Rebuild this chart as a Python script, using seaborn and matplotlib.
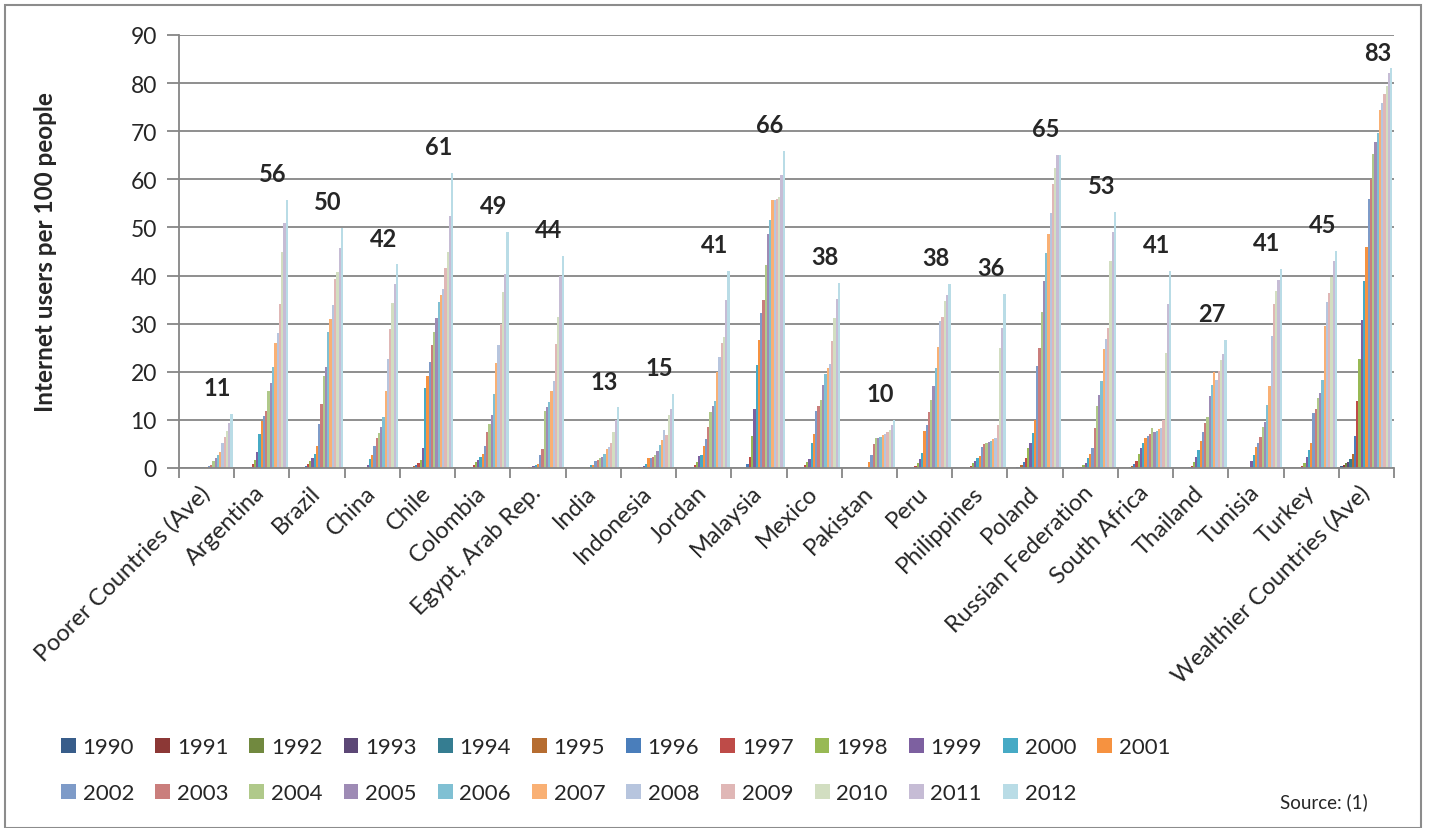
import numpy as np
import pandas as pd
import seaborn as sns
import matplotlib.pyplot as plt
from matplotlib.patches import Patch, Rectangle

# Internet users per 100 people, 1990..2012 (one list per country)
years = [str(y) for y in range(1990, 2013)]

poorer = [0, 0, 0, 0, 0, 0, 0.01, 0.02, 0.05, 0.1, 0.2, 0.3, 0.5, 0.7, 1.4, 2.1, 2.8, 3.3, 5.3, 6.4, 7.6, 9.4, 11.2]
argentina = [0, 0, 0, 0, 0, 0.01, 0.28, 0.84, 1.65, 3.28, 7.04, 9.78, 10.88, 11.91, 16.04, 17.72, 20.93, 25.95, 28.11, 34.0, 45.0, 51.0, 55.8]
brazil = [0, 0, 0.01, 0.02, 0.04, 0.11, 0.45, 0.79, 1.48, 2.04, 2.87, 4.53, 9.15, 13.21, 19.07, 21.02, 28.18, 30.88, 33.83, 39.22, 40.65, 45.69, 49.85]
china = [0, 0, 0, 0, 0, 0, 0.01, 0.03, 0.17, 0.71, 1.78, 2.64, 4.6, 6.2, 7.3, 8.5, 10.5, 16.0, 22.6, 28.9, 34.3, 38.3, 42.3]
chile = [0, 0, 0.02, 0.05, 0.1, 0.4, 0.6, 1.0, 1.7, 4.1, 16.6, 19.1, 22.1, 25.5, 28.2, 31.2, 34.5, 35.9, 37.3, 41.6, 45.0, 52.3, 61.4]
colombia = [0, 0, 0, 0, 0.05, 0.1, 0.3, 0.6, 1.2, 1.7, 2.2, 2.85, 4.6, 7.4, 9.1, 11.0, 15.3, 21.8, 25.6, 30.0, 36.5, 40.4, 49.0]
egypt = [0, 0, 0, 0.01, 0.02, 0.04, 0.08, 0.15, 0.2, 0.4, 0.64, 0.84, 2.72, 4.04, 11.93, 12.75, 13.66, 16.03, 18.01, 25.69, 31.42, 39.83, 44.07]
india = [0, 0, 0, 0, 0, 0.03, 0.05, 0.07, 0.14, 0.27, 0.53, 0.66, 1.54, 1.69, 1.98, 2.39, 2.81, 3.95, 4.38, 5.12, 7.5, 10.07, 12.58]
indonesia = [0, 0, 0, 0, 0.01, 0.03, 0.1, 0.2, 0.26, 0.45, 0.93, 2.02, 2.13, 2.39, 2.6, 3.6, 4.76, 5.79, 7.92, 6.92, 10.92, 12.28, 15.36]
jordan = [0, 0, 0, 0, 0, 0.03, 0.2, 0.6, 1.3, 2.5, 2.6, 4.6, 6.0, 8.5, 11.7, 12.9, 13.9, 20.0, 23.0, 26.0, 27.2, 34.9, 41.0]
malaysia = [0, 0, 0, 0.03, 0.05, 0.1, 0.8, 2.3, 6.75, 12.3, 21.4, 26.7, 32.3, 35.0, 42.2, 48.6, 51.6, 55.7, 55.8, 55.9, 56.3, 61.0, 65.8]
mexico = [0, 0, 0, 0.01, 0.04, 0.1, 0.2, 0.7, 1.3, 1.9, 5.1, 7.0, 11.9, 12.9, 14.1, 17.2, 19.5, 20.8, 21.7, 26.3, 31.1, 35.1, 38.4]
pakistan = [0, 0, 0, 0, 0, 0, 0, 0, 0, 0.1, 0.3, 1.2, 2.6, 5.0, 6.2, 6.3, 6.5, 6.8, 7.0, 7.5, 8.0, 9.0, 9.96]
peru = [0, 0, 0, 0, 0.01, 0.1, 0.2, 0.4, 1.0, 1.9, 3.1, 7.6, 8.9, 11.6, 14.1, 17.1, 20.7, 25.2, 30.6, 31.4, 34.8, 36.0, 38.2]
philippines = [0, 0, 0, 0.01, 0.03, 0.03, 0.06, 0.5, 1.0, 1.4, 2.0, 2.5, 4.3, 4.9, 5.2, 5.4, 5.7, 6.0, 6.2, 9.0, 25.0, 29.0, 36.2]
poland = [0, 0, 0.04, 0.2, 0.3, 0.6, 1.2, 2.0, 4.1, 5.3, 7.3, 9.9, 21.2, 24.9, 32.5, 38.8, 44.6, 48.6, 53.1, 59.0, 62.3, 65.0, 65.0]
russia = [0, 0, 0, 0, 0.01, 0.15, 0.2, 0.3, 0.6, 1.0, 2.0, 2.9, 4.1, 8.3, 12.9, 15.2, 18.0, 24.7, 26.8, 29.0, 43.0, 49.0, 53.3]
south_africa = [0, 0, 0, 0.05, 0.2, 0.5, 0.8, 1.5, 2.9, 4.1, 5.3, 6.3, 6.7, 7.0, 8.4, 7.5, 7.6, 8.1, 8.4, 10.0, 24.0, 34.0, 41.0]
thailand = [0, 0, 0, 0, 0.02, 0.05, 0.2, 0.5, 1.2, 2.2, 3.7, 5.6, 7.5, 9.3, 10.7, 15.0, 17.2, 20.0, 18.2, 20.1, 22.4, 23.7, 26.6]
tunisia = [0, 0, 0, 0, 0, 0.01, 0.03, 0.1, 0.2, 1.5, 2.75, 4.3, 5.25, 6.5, 8.5, 9.6, 13.0, 17.1, 27.5, 34.1, 36.8, 39.1, 41.4]
turkey = [0, 0, 0, 0.01, 0.02, 0.08, 0.1, 0.4, 1.0, 2.2, 3.7, 5.2, 11.4, 12.3, 14.5, 15.5, 18.2, 29.5, 34.4, 36.4, 39.8, 43.1, 45.1]
wealthier = [0.5, 0.7, 1.0, 1.3, 1.9, 2.9, 6.6, 14.0, 22.7, 30.8, 38.8, 45.9, 55.9, 60.1, 65.3, 67.7, 69.6, 74.4, 75.9, 77.8, 79.5, 82.0, 83.1]

countries = ['Poorer Countries (Ave)', 'Argentina', 'Brazil', 'China', 'Chile', 'Colombia',
             'Egypt, Arab Rep.', 'India', 'Indonesia', 'Jordan', 'Malaysia', 'Mexico',
             'Pakistan', 'Peru', 'Philippines', 'Poland', 'Russian Federation',
             'South Africa', 'Thailand', 'Tunisia', 'Turkey', 'Wealthier Countries (Ave)']
series = [poorer, argentina, brazil, china, chile, colombia, egypt, india, indonesia,
          jordan, malaysia, mexico, pakistan, peru, philippines, poland, russia,
          south_africa, thailand, tunisia, turkey, wealthier]

# Office 2007 style palette, one colour per year
year_colors = ['#385D8A', '#8C3836', '#71893F', '#5C4776', '#357D91', '#B66D31',
               '#4A7EBB', '#BE4B48', '#98B954', '#7D60A0', '#46AAC5', '#F69240',
               '#7E9BC8', '#CA7E7C', '#B0C98A', '#9E8BB5', '#80C0D3', '#F9B074',
               '#B7C5DE', '#E0B7B6', '#D2DEC1', '#C6BCD5', '#B9DCE6']

rows = []
for c, vals in zip(countries, series):
    for y, v in zip(years, vals):
        rows.append((c, y, v))
df = pd.DataFrame(rows, columns=['Country', 'Year', 'Users'])

sns.set_theme(style='white')
plt.rcParams['font.family'] = ['Lato', 'DejaVu Sans']

grey = '#868686'
W, H = 1429, 829
fig = plt.figure(figsize=(W / 100, H / 100), dpi=100)
ax = fig.add_axes([179 / W, 1 - 469 / H, (1394 - 179) / W, (469 - 36) / H])

sns.barplot(data=df, x='Country', y='Users', hue='Year', order=countries,
            hue_order=years, palette=year_colors, saturation=1, width=0.94,
            errorbar=None, legend=False, linewidth=0, ax=ax)

ax.set_xlim(-0.5, len(countries) - 0.5)
ax.set_ylim(0, 90)
ax.set_yticks(range(0, 91, 10))
ax.yaxis.grid(True, color=grey, lw=1.3)
ax.set_axisbelow(True)
for s in ['top', 'right']:
    ax.spines[s].set_visible(False)
for s in ['left', 'bottom']:
    ax.spines[s].set_color(grey)
    ax.spines[s].set_linewidth(1.3)

ax.tick_params(axis='y', length=9, width=1.3, color=grey, direction='out',
               labelsize=16.5, pad=7, left=True)
ax.set_xticks(range(len(countries)))
ax.set_xticklabels(countries, rotation=45, ha='right', va='center',
                   rotation_mode='anchor', fontsize=17)
ax.tick_params(axis='x', length=0, pad=15, bottom=True)
ax.set_xticks(np.arange(-0.5, len(countries), 1), minor=True)
ax.tick_params(axis='x', which='minor', length=7, width=1.3, color=grey,
               direction='out', bottom=True)

ax.set_xlabel('')
ax.set_ylabel('Internet users per 100 people', fontsize=17.5, fontweight='bold')
ax.yaxis.set_label_coords((57 - 179) / (1394 - 179), 0.5)

# 2012 value labels above each group
for i, vals in enumerate(series):
    ax.text(i + 0.2, min(vals[-1] + 5.5, 86.3), f'{round(vals[-1])}',
            ha='center', va='center', fontsize=17, fontweight='bold')

# legend in two rows, as in the original
handles = [Patch(facecolor=c, edgecolor='none') for c in year_colors]
for lo, hi, yc in [(0, 12, 748.5), (12, 23, 794.5)]:
    fig.legend(handles[lo:hi], years[lo:hi], loc='center left',
               bbox_to_anchor=(61 / W, 1 - yc / H), ncol=hi - lo, frameon=False,
               fontsize=16, handlelength=0.67, handleheight=0.67,
               handletextpad=0.3, columnspacing=0.95, borderpad=0,
               borderaxespad=0)

fig.text(1280 / W, 1 - 802 / H, 'Source: (1)', fontsize=13.5, va='center')

fig.patches.append(Rectangle((5 / W, 0.0), (1421 - 5) / W, 1 - 5.5 / H,
                             transform=fig.transFigure, fill=False,
                             edgecolor='#8C8C8C', lw=1.5))

fig.savefig('out.png', dpi=100)
